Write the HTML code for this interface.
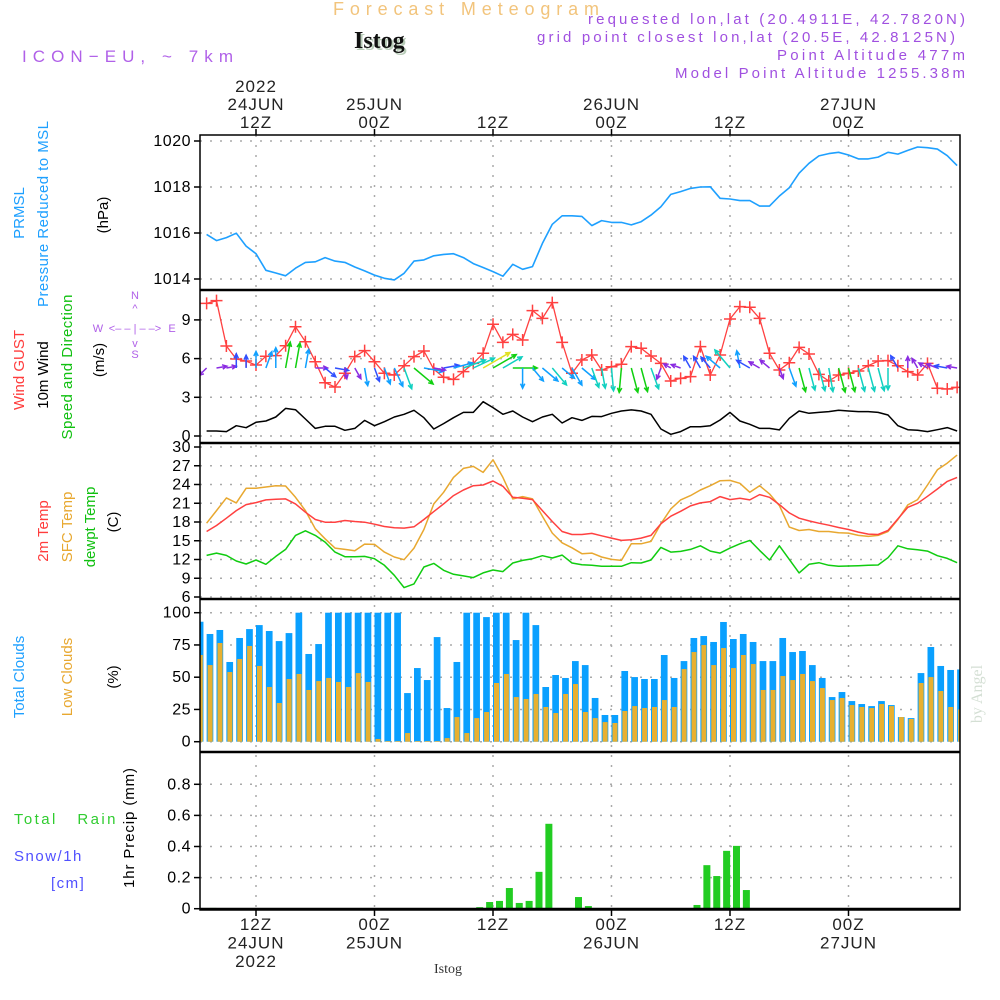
<!DOCTYPE html>
<html><head><meta charset="utf-8"><title>Forecast Meteogram Istog</title>
<style>
html,body{margin:0;padding:0;background:#fff;}
svg{display:block;font-family:"Liberation Sans",sans-serif;}
.tk{font-size:16px;fill:#000;letter-spacing:0.5px;}
.gl{stroke:#aaa;stroke-width:1.5;stroke-dasharray:2 8;fill:none;}
</style></head>
<body>
<svg id="chart" width="1000" height="1000" viewBox="0 0 1000 1000" xmlns="http://www.w3.org/2000/svg">
<defs><clipPath id="plotclip"><rect x="200" y="135" width="760" height="776"/></clipPath></defs>
<text x="333" y="15" font-size="18" fill="#f2c47c" textLength="266" lengthAdjust="spacing">Forecast Meteogram</text>
<text x="356" y="50" font-size="24" font-weight="bold" font-family="Liberation Serif, serif" fill="#b8ccb8">Istog</text>
<text x="354" y="48" font-size="24" font-weight="bold" font-family="Liberation Serif, serif" fill="#111">Istog</text>
<text x="22" y="62" font-size="17" fill="#b060e8" textLength="211" lengthAdjust="spacing">ICON−EU, ~ 7km</text>
<g font-size="15" fill="#a050e0">
<text x="588" y="24" textLength="377" lengthAdjust="spacing">requested lon,lat (20.4911E, 42.7820N)</text>
<text x="537" y="42" textLength="418" lengthAdjust="spacing">grid point closest lon,lat (20.5E, 42.8125N)</text>
<text x="777" y="60" textLength="188" lengthAdjust="spacing">Point Altitude 477m</text>
<text x="675" y="78" textLength="290" lengthAdjust="spacing">Model Point Altitude 1255.38m</text>
</g>
<g font-size="15">
<text transform="translate(24,213) rotate(-90)" text-anchor="middle" fill="#1ea0ff">PRMSL</text>
<text transform="translate(48,214) rotate(-90)" text-anchor="middle" fill="#1ea0ff" textLength="186" lengthAdjust="spacing">Pressure Reduced to MSL</text>
<text transform="translate(108,215) rotate(-90)" text-anchor="middle" fill="#000">(hPa)</text>
<text transform="translate(24,370) rotate(-90)" text-anchor="middle" fill="#ff3c3c">Wind GUST</text>
<text transform="translate(48,375) rotate(-90)" text-anchor="middle" fill="#000">10m Wind</text>
<text transform="translate(72,367) rotate(-90)" text-anchor="middle" fill="#10c010" textLength="145" lengthAdjust="spacing">Speed and Direction</text>
<text transform="translate(104,360) rotate(-90)" text-anchor="middle" fill="#000">(m/s)</text>
<text transform="translate(48,531) rotate(-90)" text-anchor="middle" fill="#ff3c3c">2m Temp</text>
<text transform="translate(72,527) rotate(-90)" text-anchor="middle" fill="#e8a830">SFC Temp</text>
<text transform="translate(95,527) rotate(-90)" text-anchor="middle" fill="#10c010">dewpt Temp</text>
<text transform="translate(118,522) rotate(-90)" text-anchor="middle" fill="#000">(C)</text>
<text transform="translate(24,677) rotate(-90)" text-anchor="middle" fill="#1ea0ff">Total Clouds</text>
<text transform="translate(72,677) rotate(-90)" text-anchor="middle" fill="#e8a830">Low Clouds</text>
<text transform="translate(118,677) rotate(-90)" text-anchor="middle" fill="#000">(%)</text>
<text transform="translate(134,828) rotate(-90)" text-anchor="middle" fill="#000" textLength="120" lengthAdjust="spacing">1hr Precip (mm)</text>
<text x="14" y="824" fill="#30cc30" font-size="15" letter-spacing="1.5" textLength="103" lengthAdjust="spacing" xml:space="preserve">Total   Rain</text>
<text x="14" y="861" fill="#5050ff" font-size="15" letter-spacing="1.5">Snow/1h</text>
<text x="51" y="888" fill="#5050ff" font-size="15" letter-spacing="1.5">[cm]</text>
</g>
<g font-size="11" fill="#b060e8" text-anchor="middle">
<text x="135" y="299">N</text>
<text x="135" y="312">^</text>
<text x="135" y="358">S</text>
<text x="98" y="332">W</text>
<text x="172" y="332">E</text>
<text x="135" y="332">&lt;– – | – –&gt;</text>
<text x="135" y="347">v</text>
</g>
<text transform="translate(982,694) rotate(-90)" text-anchor="middle" font-size="16" font-family="Liberation Serif, serif" fill="#d4dfd4">by Angel</text>
<text x="448" y="973" text-anchor="middle" font-size="14" font-family="Liberation Serif, serif" fill="#333">Istog</text>
<g id="grid"></g>
<g id="marks" clip-path="url(#plotclip)"></g>
<g id="axes"></g>
</svg>
<script>
// ---- data (index i = hour offset START_H + i from 24JUN 12Z) ----
const START_H = -5;
const timeLabelHours = [0, 12, 24, 36, 48, 60];
const topTimeLabels = [["2022","24JUN","12Z"],["25JUN","00Z"],["12Z"],["26JUN","00Z"],["12Z"],["27JUN","00Z"]];
const bottomTimeLabels = [["12Z","24JUN","2022"],["00Z","25JUN"],["12Z"],["00Z","26JUN"],["12Z"],["00Z","27JUN"]];
const pressureTicks = [1014, 1016, 1018, 1020];
const windTicks = [0, 3, 6, 9];
const tempTicks = [6, 9, 12, 15, 18, 21, 24, 27, 30];
const cloudTicks = [0, 25, 50, 75, 100];
const precipTicks = [0, 0.2, 0.4, 0.6, 0.8];
const pressure = [1015.94,1015.67,1015.8,1015.99,1015.43,1015.1,1014.38,1014.26,1014.14,1014.47,1014.72,1014.75,1014.93,1014.78,1014.72,1014.52,1014.35,1014.17,1014.03,1013.96,1014.25,1014.78,1014.83,1015.01,1015.07,1015.1,1014.93,1014.67,1014.5,1014.32,1014.12,1014.64,1014.42,1014.54,1015.55,1016.38,1016.75,1016.75,1016.72,1016.32,1016.54,1016.46,1016.46,1016.35,1016.49,1016.78,1017.14,1017.68,1017.8,1017.94,1018.0,1018.01,1017.51,1017.48,1017.41,1017.41,1017.17,1017.17,1017.61,1017.97,1018.6,1019.03,1019.35,1019.45,1019.51,1019.39,1019.22,1019.22,1019.3,1019.51,1019.43,1019.59,1019.74,1019.71,1019.65,1019.36,1018.93];
const windSpeed = [0.39,0.39,0.34,0.80,0.64,1.06,1.16,1.47,2.14,2.04,1.32,0.59,0.75,0.75,0.44,0.59,1.21,0.80,1.11,1.47,1.68,1.99,1.42,0.54,0.96,1.42,1.83,1.83,2.66,2.2,1.68,1.94,1.47,1.11,1.47,1.68,1.01,1.42,1.21,1.52,1.5,1.76,1.94,2.02,1.94,1.68,0.54,0.13,0.34,0.72,0.72,0.80,1.24,1.83,1.16,0.91,0.59,0.59,0.47,1.37,1.94,1.76,1.83,1.89,1.99,1.94,1.89,1.89,1.83,1.63,0.80,0.49,0.44,0.34,0.49,0.65,0.39];
const windGust = [10.28,10.49,6.98,5.97,5.81,5.5,6.18,6.23,7.0,8.47,7.31,5.76,4.13,3.8,4.86,6.15,6.62,5.76,4.86,4.73,5.45,6.15,6.59,5.17,4.55,4.39,4.99,5.63,6.41,8.66,7.26,7.88,7.44,9.72,9.12,10.34,7.26,4.86,5.89,6.28,5.12,5.37,5.56,6.93,6.80,6.2,5.63,4.26,4.47,4.6,6.93,4.73,6.28,9.07,10.03,9.98,9.12,6.41,5.12,5.68,6.87,6.36,4.78,4.26,4.73,4.86,5.04,5.45,5.81,5.84,5.45,4.99,4.73,5.63,3.7,3.64,3.77];
const windDir = [225,80,80,0,0,0,20,0,10,10,10,90,130,100,170,150,170,160,160,155,160,130,100,100,80,75,70,65,60,60,60,90,180,140,130,140,130,150,130,160,170,175,185,165,165,160,200,300,290,330,330,320,310,320,350,300,300,310,160,160,165,165,165,170,165,165,165,165,165,180,330,0,330,300,290,280,280];
const temp2m = [16.48,17.44,18.61,19.83,20.79,21.1,21.53,21.64,21.69,20.89,19.57,18.4,17.97,17.97,18.24,18.08,17.97,17.65,17.28,17.07,17.02,17.23,18.4,19.67,20.89,22.22,23.12,23.81,23.92,24.56,23.71,21.95,21.8,21.58,19.83,18.08,16.48,16.0,16.0,16.17,15.79,15.42,15.05,15.16,15.42,15.85,17.71,18.93,19.72,20.57,21.05,21.26,22.06,21.58,21.8,21.53,22.38,21.95,20.79,19.46,18.61,18.18,17.81,17.49,17.12,16.8,16.38,16.06,16.0,16.64,18.5,20.36,21.0,22.11,23.28,24.5,25.14];
const tempSfc = [17.81,19.83,21.85,21.05,23.39,23.39,23.6,23.81,23.76,21.95,19.83,16.91,15.32,13.83,13.62,13.4,14.47,14.41,13.19,12.4,11.97,13.83,16.8,20.89,22.75,25.14,26.58,26.89,25.94,27.96,25.14,21.69,22.06,21.69,18.93,16.22,14.68,13.88,12.93,13.03,12.4,12.02,11.86,14.52,14.52,14.89,17.71,20.1,21.53,22.22,23.12,23.81,24.61,24.66,24.19,22.75,23.81,22.49,20.63,17.18,16.64,16.8,16.48,16.48,16.27,16.22,15.85,15.69,15.85,16.48,18.4,20.73,21.58,23.92,26.36,27.42,28.7];
const dewpoint = [12.66,13.03,12.66,11.76,11.28,11.92,11.23,12.5,13.62,15.85,16.59,15.85,14.79,13.19,12.45,12.45,12.5,12.13,11.07,9.47,7.51,8.09,10.8,11.38,10.27,9.63,9.37,9.1,9.85,10.32,10.06,11.44,11.86,12.13,12.61,12.24,12.71,11.44,11.17,11.07,10.91,10.91,10.91,11.49,11.44,11.92,13.94,13.19,13.3,13.62,14.2,13.35,13.03,13.83,14.52,15.05,13.46,11.92,14.2,12.02,9.85,11.23,11.49,11.07,10.91,10.96,11.01,11.07,11.12,12.29,14.2,13.72,13.56,13.35,12.61,12.18,11.49];
// cloud bars start one hour earlier (START_H - 1)
const totalClouds = [93,83.5,86.6,61.8,80.4,87.3,90.4,85.8,78,84.2,100,68,75.7,100,100,100,100,100,100,100,100,37.7,57.1,47.8,81.1,26.1,61.8,100,100,96.6,100,100,78.8,100,90.4,42.4,51.7,49.4,62.5,59.4,33.9,20.7,20.7,54.8,50.1,48.6,48.6,67.2,49.4,62.5,80.4,81.9,77.3,92.8,79.6,83.5,77.3,62.5,62.5,80.4,69.5,70.3,59.4,49.4,34.6,38.5,31.5,29.2,27.6,31.5,28.4,19.1,18.3,53.2,73.4,58.7,55.6,56];
const lowClouds = [67.2,59.4,76.5,54,64.1,74.2,58.7,42.4,30,48.6,52.5,40.1,47,49.4,46.3,42.4,53.2,46.3,2.1,0.5,0.5,6.7,0.5,0.5,0.5,2.8,19.1,6.7,18.3,23,45.5,52.5,34.6,33.1,37,26.9,22.2,37,44.7,23,18.3,15.2,14.5,23.8,27.6,26.1,26.9,32.3,26.9,56.3,69.5,74.9,59.4,72.6,57.1,67.2,60.2,40.1,40.1,50.9,47.8,52.5,47,41.6,32.3,33.9,28.4,26.9,26.1,29.2,27.6,19.1,17.6,45.5,50.1,39.3,26.9,25];
const precip = [0.005,0,0,0,0,0,0,0,0,0,0,0,0,0,0,0,0,0,0,0,0,0,0,0,0,0,0,0.01,0.043,0.05,0.133,0.037,0.05,0.237,0.546,0,0,0.075,0.017,0,0,0,0,0,0,0,0,0,0,0.024,0.28,0.21,0.372,0.404,0.12,0,0,0,0,0,0,0,0,0,0,0,0,0,0,0,0,0,0,0,0,0,0];

// ---- scales ----
const X0 = 200, X1 = 960;
const xH = h => 256 + h * 9.875;
const xI = i => xH(START_H + i);
const yP = v => 141 + (1020 - v) * 23;
const yW = v => 436 - v * 12.9;
const yT = v => 447 + (30 - v) * 6.25;
const yC = v => 741.7 - v * 1.29;
const yR = v => 908.7 - v * 155.5;
const panels = [[135,290],[290,443],[443,599],[599,752],[752,910]];

const NS = "http://www.w3.org/2000/svg";
const grid = document.getElementById("grid");
const marks = document.getElementById("marks");
const axes = document.getElementById("axes");
function el(tag, attrs, parent) {
  const e = document.createElementNS(NS, tag);
  for (const k in attrs) e.setAttribute(k, attrs[k]);
  parent.appendChild(e);
  return e;
}

timeLabelHours.forEach(h => {
  const g = el("line", {x1: xH(h), x2: xH(h), y1: 135, y2: 910, class: "gl"}, grid);
  
  
});
function hgrid(ticks, yf, fmt, name) {
  ticks.forEach(v => {
    const y = yf(v);
    const g = el("line", {x1: X0, x2: X1, y1: y, y2: y, class: "gl"}, grid);
    
    
    const t = el("line", {x1: 194, x2: 200, y1: y, y2: y, stroke: "#000", "stroke-width": 1.5}, axes);
    
    
    const lb = el("text", {x: 191, y: y + 5, "text-anchor": "end", class: "tk"}, axes);
    
    
    lb.textContent = fmt(v);
  });
}
hgrid(pressureTicks, yP, v => String(v), "pressure");
hgrid(windTicks, yW, v => String(v), "wind");
hgrid(tempTicks, yT, v => String(v), "temp");
hgrid(cloudTicks, yC, v => String(v), "cloud");
hgrid(precipTicks, yR, v => v === 0 ? "0" : v.toFixed(1), "precip");

totalClouds.forEach((v, k) => {
  const x = xH(START_H - 1 + k);
  const b = el("rect", {x: x, y: yC(v), width: 6.7, height: yC(0) - yC(v), fill: "#0aa0ff"}, marks);
  
  
});
lowClouds.forEach((v, k) => {
  const x = xH(START_H - 1 + k);
  const b = el("rect", {x: x + 1, y: yC(v), width: 5, height: yC(0) - yC(v), fill: "#e8b030"}, marks);
  
  
});
precip.forEach((v, i) => {
  if (v <= 0) return;
  const x = xI(i) + 3;
  const b = el("rect", {x: x, y: yR(v), width: 7, height: Math.max(yR(0) - yR(v), 1), fill: "#22cc22"}, marks);
  
  
});

function line(arr, yf, color, name, w) {
  const d = arr.map((v, i) => (i ? "L" : "M") + xI(i).toFixed(1) + "," + yf(v).toFixed(1)).join("");
  const p = el("path", {d: d, fill: "none", stroke: color, "stroke-width": w || 1.5, "stroke-linejoin": "round"}, marks);
  
  
}
line(pressure, yP, "#1ea0ff", "pressure-line", 1.6);
line(windSpeed, yW, "#000", "wind-speed-line", 1.5);
line(windGust, yW, "#ff4040", "wind-gust-line", 1.3);
line(tempSfc, yT, "#e8a830", "sfc-temp-line", 1.5);
line(temp2m, yT, "#ff4040", "temp-2m-line", 1.5);
line(dewpoint, yT, "#10cc10", "dewpoint-line", 1.5);
windGust.forEach((v, i) => {
  const x = xI(i), y = yW(v);
  const m = el("path", {d: `M${x-6},${y}H${x+6}M${x},${y-6}V${y+6}`, stroke: "#ff4040", "stroke-width": 1.5}, marks);
  
  
});
function arrowColor(s) {
  if (s < 0.6) return "#8a2be2";
  if (s < 1.0) return "#3050ff";
  if (s < 1.5) return "#10a0ff";
  if (s < 1.9) return "#10d0c0";
  if (s < 2.4) return "#10d010";
  return "#e0e020";
}
windDir.forEach((d, i) => {
  const s = windSpeed[i];
  const len = 7 + s * 9;
  const a = d * Math.PI / 180;
  const x0 = xI(i), y0 = 368;
  const x1 = x0 + Math.sin(a) * len, y1 = y0 - Math.cos(a) * len;
  const hl = 5, ha = 0.45;
  const b1 = a + Math.PI - ha, b2 = a + Math.PI + ha;
  const dd = `M${x0.toFixed(1)},${y0}L${x1.toFixed(1)},${y1.toFixed(1)}M${(x1 + Math.sin(b1) * hl).toFixed(1)},${(y1 - Math.cos(b1) * hl).toFixed(1)}L${x1.toFixed(1)},${y1.toFixed(1)}L${(x1 + Math.sin(b2) * hl).toFixed(1)},${(y1 - Math.cos(b2) * hl).toFixed(1)}`;
  const ar = el("path", {d: dd, stroke: arrowColor(s), "stroke-width": 1.5, fill: "none"}, marks);
  
  
});

const frame = el("rect", {x: X0, y: 135, width: X1 - X0, height: 775, fill: "none", stroke: "#000", "stroke-width": 1.5}, axes);


panels.slice(1).forEach(p => {
  const s = el("line", {x1: X0, x2: X1, y1: p[0], y2: p[0], stroke: "#000", "stroke-width": 2.5}, axes);
  
  
});
const base = el("line", {x1: X0, x2: X1, y1: 909, y2: 909, stroke: "#000", "stroke-width": 2.5}, axes);



timeLabelHours.forEach((h, k) => {
  const x = xH(h);
  const tt = el("line", {x1: x, x2: x, y1: 129, y2: 135, stroke: "#000", "stroke-width": 1.5}, axes);
  
  
  const bt = el("line", {x1: x, x2: x, y1: 910, y2: 916, stroke: "#000", "stroke-width": 1.5}, axes);
  
  
  const top = topTimeLabels[k];
  top.forEach((s, j) => {
    const t = el("text", {x: x, y: 128 - (top.length - 1 - j) * 18, "text-anchor": "middle", "font-size": 17, "letter-spacing": 1, fill: "#222"}, axes);
    
    
    t.textContent = s;
  });
  bottomTimeLabels[k].forEach((s, j) => {
    const t = el("text", {x: x, y: 930 + j * 18.5, "text-anchor": "middle", "font-size": 17, "letter-spacing": 1, fill: "#222"}, axes);
    
    
    t.textContent = s;
  });
});
</script>
</body></html>
